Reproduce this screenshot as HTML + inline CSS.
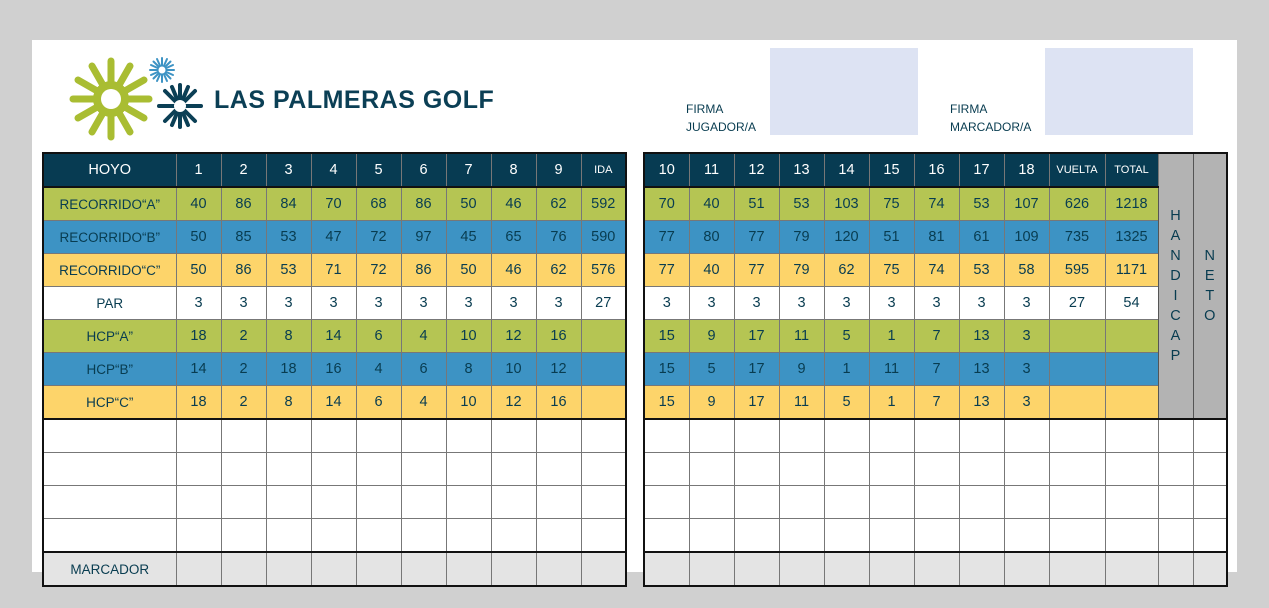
<!DOCTYPE html>
<html><head><meta charset="utf-8">
<style>
html,body{margin:0;padding:0}
body{width:1269px;height:608px;background:#d0d0d0;position:relative;overflow:hidden;font-family:"Liberation Sans",sans-serif}
.card{position:absolute;left:32px;top:40px;width:1205px;height:532px;background:#fff}
table{position:absolute;top:152px;border-collapse:collapse;table-layout:fixed;border:2px solid #111}
td{border:1px solid #777;height:32px;padding:0;text-align:center;font-size:14.5px;color:#083c50;overflow:hidden}
tr.h td{background:#073b52;color:#fff;font-size:14.5px}
tr.h td.s{font-size:11px}
tr.a td{background:#b5c553}
tr.b td{background:#3d93c4}
tr.c td{background:#fdd46a}
tr.p td{background:#fff}
tr.m td{background:#e4e4e4}
td.l{font-size:13.5px}
tr.h td{border-bottom:2px solid #111}
tr.c td{border-bottom:2px solid #111}
tr.e4 td{border-bottom:2px solid #111}
td.v{background:#b3b3b3 !important;font-size:14px;line-height:20px;color:#083c50 !important;border:1px solid #555}
.sig{position:absolute;top:48px;width:148px;height:87px;background:#dde3f3}
.fl{position:absolute;font-size:12px;color:#083c50;line-height:17.5px}
</style></head><body>
<div class="card"></div>
<svg style="position:absolute;left:0;top:0" width="520" height="150">
<g stroke="#a9bd32" stroke-width="7" stroke-linecap="round">
<line x1="111" y1="85" x2="111" y2="61"/><line x1="111" y1="113" x2="111" y2="137"/>
<line x1="97" y1="99" x2="73" y2="99"/><line x1="125" y1="99" x2="149" y2="99"/>
<line x1="104" y1="87" x2="92" y2="66"/><line x1="118" y1="111" x2="130" y2="132"/>
<line x1="118" y1="87" x2="130" y2="66"/><line x1="104" y1="111" x2="92" y2="132"/>
<line x1="99" y1="92" x2="78" y2="80"/><line x1="123" y1="106" x2="144" y2="118"/>
<line x1="123" y1="92" x2="144" y2="80"/><line x1="99" y1="106" x2="78" y2="118"/>
</g>
<circle cx="111" cy="99" r="18" fill="#a9bd32"/><circle cx="111" cy="99" r="10" fill="#fff"/>
<g stroke="#3d93c4" stroke-width="2" stroke-linecap="round">
<line x1="162" y1="58" x2="162" y2="82"/><line x1="150" y1="70" x2="174" y2="70"/>
<line x1="153.5" y1="61.5" x2="170.5" y2="78.5"/><line x1="170.5" y1="61.5" x2="153.5" y2="78.5"/>
<line x1="157" y1="59" x2="167" y2="81"/><line x1="167" y1="59" x2="157" y2="81"/>
<line x1="151" y1="65" x2="173" y2="75"/><line x1="173" y1="65" x2="151" y2="75"/>
</g><circle cx="162" cy="70" r="3.5" fill="#fff"/>
<g stroke="#0b3f55" stroke-width="4" stroke-linecap="round">
<line x1="180" y1="85" x2="180" y2="127"/>
<line x1="159" y1="106" x2="201" y2="106"/>
<line x1="165" y1="91" x2="195" y2="121"/>
<line x1="195" y1="91" x2="165" y2="121"/>
<line x1="172" y1="87" x2="188" y2="125"/><line x1="188" y1="87" x2="172" y2="125"/>
</g>
<circle cx="180" cy="106" r="6" fill="#fff"/>
<text x="214" y="108" font-family="Liberation Sans" font-weight="bold" font-size="25" fill="#0b3f55" letter-spacing="0.5">LAS PALMERAS GOLF</text>
</svg>
<div class="sig" style="left:770px"></div>
<div class="sig" style="left:1045px"></div>
<div class="fl" style="left:686px;top:101px">FIRMA<br>JUGADOR/A</div>
<div class="fl" style="left:950px;top:101px">FIRMA<br>MARCADOR/A</div>

<table style="left:42px;width:583px">
<colgroup><col style="width:133px"><col span="10" style="width:45px"></colgroup>
<tr class="h"><td>HOYO</td><td>1</td><td>2</td><td>3</td><td>4</td><td>5</td><td>6</td><td>7</td><td>8</td><td>9</td><td class="s">IDA</td></tr>
<tr class="a"><td class="l">RECORRIDO“A”</td><td>40</td><td>86</td><td>84</td><td>70</td><td>68</td><td>86</td><td>50</td><td>46</td><td>62</td><td>592</td></tr>
<tr class="b"><td class="l">RECORRIDO“B”</td><td>50</td><td>85</td><td>53</td><td>47</td><td>72</td><td>97</td><td>45</td><td>65</td><td>76</td><td>590</td></tr>
<tr class="c"><td class="l" style="border-bottom:1px solid #777">RECORRIDO“C”</td><td style="border-bottom:1px solid #777">50</td><td style="border-bottom:1px solid #777">86</td><td style="border-bottom:1px solid #777">53</td><td style="border-bottom:1px solid #777">71</td><td style="border-bottom:1px solid #777">72</td><td style="border-bottom:1px solid #777">86</td><td style="border-bottom:1px solid #777">50</td><td style="border-bottom:1px solid #777">46</td><td style="border-bottom:1px solid #777">62</td><td style="border-bottom:1px solid #777">576</td></tr>
<tr class="p"><td class="l">PAR</td><td>3</td><td>3</td><td>3</td><td>3</td><td>3</td><td>3</td><td>3</td><td>3</td><td>3</td><td>27</td></tr>
<tr class="a"><td class="l">HCP“A”</td><td>18</td><td>2</td><td>8</td><td>14</td><td>6</td><td>4</td><td>10</td><td>12</td><td>16</td><td></td></tr>
<tr class="b"><td class="l">HCP“B”</td><td>14</td><td>2</td><td>18</td><td>16</td><td>4</td><td>6</td><td>8</td><td>10</td><td>12</td><td></td></tr>
<tr class="c"><td class="l">HCP“C”</td><td>18</td><td>2</td><td>8</td><td>14</td><td>6</td><td>4</td><td>10</td><td>12</td><td>16</td><td></td></tr>
<tr class="p"><td></td><td></td><td></td><td></td><td></td><td></td><td></td><td></td><td></td><td></td><td></td></tr>
<tr class="p"><td></td><td></td><td></td><td></td><td></td><td></td><td></td><td></td><td></td><td></td><td></td></tr>
<tr class="p"><td></td><td></td><td></td><td></td><td></td><td></td><td></td><td></td><td></td><td></td><td></td></tr>
<tr class="p e4"><td></td><td></td><td></td><td></td><td></td><td></td><td></td><td></td><td></td><td></td><td></td></tr>
<tr class="m"><td class="l">MARCADOR</td><td></td><td></td><td></td><td></td><td></td><td></td><td></td><td></td><td></td><td></td></tr>
</table>

<table style="left:643px;width:583px">
<colgroup><col span="9" style="width:45px"><col style="width:56px"><col style="width:53px"><col style="width:35px"><col style="width:34px"></colgroup>
<tr class="h"><td>10</td><td>11</td><td>12</td><td>13</td><td>14</td><td>15</td><td>16</td><td>17</td><td>18</td><td class="s">VUELTA</td><td class="s">TOTAL</td>
<td class="v" rowspan="8" style="border-bottom:2px solid #111">H<br>A<br>N<br>D<br>I<br>C<br>A<br>P</td>
<td class="v" rowspan="8" style="border-bottom:2px solid #111">N<br>E<br>T<br>O</td></tr>
<tr class="a"><td>70</td><td>40</td><td>51</td><td>53</td><td>103</td><td>75</td><td>74</td><td>53</td><td>107</td><td>626</td><td>1218</td></tr>
<tr class="b"><td>77</td><td>80</td><td>77</td><td>79</td><td>120</td><td>51</td><td>81</td><td>61</td><td>109</td><td>735</td><td>1325</td></tr>
<tr class="c"><td style="border-bottom:1px solid #777">77</td><td style="border-bottom:1px solid #777">40</td><td style="border-bottom:1px solid #777">77</td><td style="border-bottom:1px solid #777">79</td><td style="border-bottom:1px solid #777">62</td><td style="border-bottom:1px solid #777">75</td><td style="border-bottom:1px solid #777">74</td><td style="border-bottom:1px solid #777">53</td><td style="border-bottom:1px solid #777">58</td><td style="border-bottom:1px solid #777">595</td><td style="border-bottom:1px solid #777">1171</td></tr>
<tr class="p"><td>3</td><td>3</td><td>3</td><td>3</td><td>3</td><td>3</td><td>3</td><td>3</td><td>3</td><td>27</td><td>54</td></tr>
<tr class="a"><td>15</td><td>9</td><td>17</td><td>11</td><td>5</td><td>1</td><td>7</td><td>13</td><td>3</td><td></td><td></td></tr>
<tr class="b"><td>15</td><td>5</td><td>17</td><td>9</td><td>1</td><td>11</td><td>7</td><td>13</td><td>3</td><td></td><td></td></tr>
<tr class="c"><td>15</td><td>9</td><td>17</td><td>11</td><td>5</td><td>1</td><td>7</td><td>13</td><td>3</td><td></td><td></td></tr>
<tr class="p"><td></td><td></td><td></td><td></td><td></td><td></td><td></td><td></td><td></td><td></td><td></td><td></td><td></td></tr>
<tr class="p"><td></td><td></td><td></td><td></td><td></td><td></td><td></td><td></td><td></td><td></td><td></td><td></td><td></td></tr>
<tr class="p"><td></td><td></td><td></td><td></td><td></td><td></td><td></td><td></td><td></td><td></td><td></td><td></td><td></td></tr>
<tr class="p e4"><td></td><td></td><td></td><td></td><td></td><td></td><td></td><td></td><td></td><td></td><td></td><td></td><td></td></tr>
<tr class="m"><td></td><td></td><td></td><td></td><td></td><td></td><td></td><td></td><td></td><td></td><td></td><td></td><td></td></tr>
</table>
</body></html>
